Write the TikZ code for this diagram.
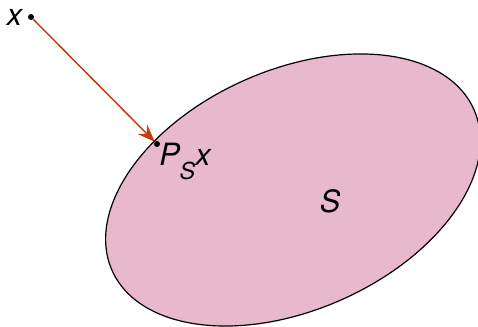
\documentclass[tikz,border=0pt]{standalone}
\usepackage{fontspec}
\setmainfont{TeX Gyre Heros}
\usetikzlibrary{arrows.meta,shapes.geometric,positioning}
\definecolor{setpink}{RGB}{232,184,204}
\definecolor{projred}{RGB}{196,60,12}
\tikzset{
  dot/.style={circle,fill=black,inner sep=0pt,minimum size=4.5pt},
  lab/.style={inner sep=0pt,font=\fontsize{23}{26}\selectfont\itshape},
}
\begin{document}
\begin{tikzpicture}[x=0.75pt,y=-0.75pt]
      \useasboundingbox (0,0) rectangle (478,327);
      \node[draw,ellipse,line width=0.9pt,fill=setpink,rotate=24,
        minimum width=297pt,minimum height=180pt,inner sep=0pt] (S) at (293,190) {};
      \node[dot] (x) at (31,17) {};
      \node[dot] (p) at (157,144) {};
      \node[lab,left=4pt of x] (xl) {x};
      \node[lab,anchor=base west] (pl) at (159,166) {P\raisebox{-10pt}{\fontsize{17.5}{20}\selectfont S}x};
      \node[lab] (sl) at (330,201) {S};

      \draw (x) edge[-{Stealth[length=13pt,width=10pt,inset=4.5pt]},projred,line width=1.1pt] (p);
    \end{tikzpicture}
\end{document}
